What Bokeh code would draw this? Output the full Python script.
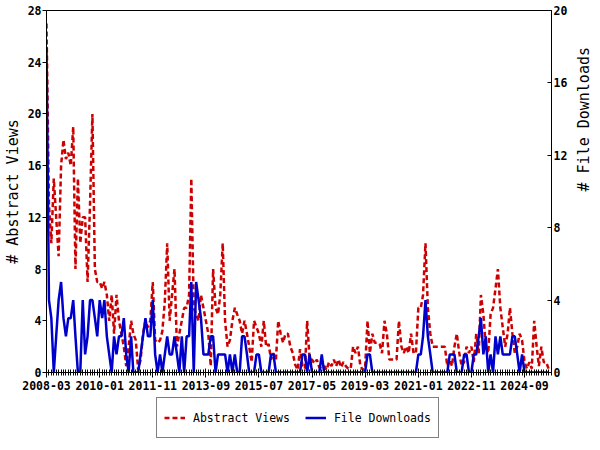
import math
import pandas as pd
from bokeh.plotting import figure
from bokeh.layouts import column
from bokeh.models import (Range1d, LinearAxis, FixedTicker, DatetimeTickFormatter,
                          Legend, LegendItem, ColumnDataSource)
from bokeh.embed import file_html
from bokeh.resources import INLINE

# ---------------- data (monthly, starting 2008-03) ----------------
start_month = "2008-03"
abstract_views = [
    27, 13, 10, 15, 12, 9, 16, 18, 16.5, 17,
    16, 19, 8, 15, 10, 12, 12, 7, 13, 20,
    8, 7, 7, 6.5, 7, 6, 4, 6, 3, 6,
    4, 3, 2, 0.5, 2, 4, 3, 2.5, 0.2, 1,
    3, 4, 3.5, 4, 7, 2.5, 2.3, 2.5, 3.2, 5.5,
    10, 4, 6, 8, 2, 3, 4, 5, 5, 6,
    15, 5, 4.5, 4, 6, 5, 4, 3, 0.5, 8,
    5, 4.5, 6, 10, 4, 2, 2.5, 4, 5, 4.5,
    4, 3, 4, 3, 2, 0.8, 4, 3.5, 3, 2,
    4, 2, 2.2, 1, 1.5, 1, 4, 3, 2.3, 3,
    3, 2, 1.5, 0.6, 0.2, 1.8, 0.5, 0.3, 4, 1,
    1, 0.7, 1, 0.4, 0.3, 0.5, 0.2, 0.8, 0.5, 1,
    0.5, 1, 0.4, 0.8, 0.5, 0.3, 0.3, 2, 1.5, 2,
    0.5, 0.2, 0.3, 4, 1.5, 3, 2.3, 2.3, 2.2, 1.5,
    4, 3, 1, 1, 1, 1, 4, 2, 1.5, 2,
    1.5, 3, 1.5, 1.5, 5, 5, 6, 10, 5, 3,
    2, 2, 2, 2, 2, 2, 0.5, 1, 0.5, 2,
    3, 1.5, 0.5, 0.8, 2, 1.5, 2, 0.8, 3, 1.5,
    6, 4.5, 2, 1.5, 4.5, 5, 6.5, 8, 5, 3.5,
    2, 3, 5, 3, 1.5, 2, 3, 2.5, 0.8, 0.3,
    0.8, 0.3, 4, 2, 0.5, 2, 0.8, 0.8, 0.3,
]
file_downloads = [
    18, 4, 3, 0, 2, 4, 5, 3, 2, 3,
    3, 4, 2, 0, 0, 4, 1, 2, 4, 4,
    3, 2, 4, 3, 4, 2, 1, 0, 2, 1,
    2, 2, 3, 1, 0, 2, 0, 0, 0, 1,
    2, 3, 2, 2, 4, 1, 0, 1, 0, 1,
    2, 1, 1, 2, 1, 0, 2, 0, 2, 2,
    5, 0, 5, 4, 3, 1, 1, 1, 2, 2,
    0, 1, 1, 1, 1, 0, 1, 0, 1, 0,
    0, 2, 2, 1, 0, 0, 0, 1, 1, 0,
    0, 0, 0, 1, 1, 0, 0, 0, 0, 0,
    0, 0, 0, 0, 0, 0, 1, 1, 0, 1,
    0, 0, 0, 0, 1, 0, 0, 0, 0, 0,
    0, 0, 0, 0, 0, 0, 0, 0, 0, 0,
    0, 0, 0, 1, 1, 0, 0, 0, 0, 0,
    0, 0, 0, 0, 0, 0, 0, 0, 0, 0,
    0, 0, 0, 0, 1, 1, 2, 4, 2, 1,
    0, 0, 0, 0, 0, 0, 0, 1, 1, 1,
    0, 0, 0, 1, 1, 0, 0, 1, 1, 2,
    3, 1, 2, 0, 1, 0, 2, 1, 2, 1,
    1, 1, 1, 2, 2, 1, 0, 1, 0, 0,
    0, 0, 0, 0, 0, 0, 0, 0, 0,
]
x_tick_labels = ["2008-03", "2010-01", "2011-11", "2013-09", "2015-07",
                 "2017-05", "2019-03", "2021-01", "2022-11", "2024-09"]
left_ticks = [0, 4, 8, 12, 16, 20, 24, 28]
right_ticks = [0, 4, 8, 12, 16, 20]
series_names = ["Abstract Views", "File Downloads"]
axis_titles = ["# Abstract Views", "# File Downloads"]

# ---------------- build ----------------
dates = pd.date_range(start_month + "-01", periods=len(abstract_views), freq="MS")
src = ColumnDataSource(dict(date=dates, views=abstract_views, downloads=file_downloads))

x_start = pd.Timestamp(start_month + "-01")
x_end = pd.Timestamp("2025-08-07")

FONT = "DejaVu Sans Mono"
RED = "#cc0000"
BLUE = "#0000cc"
RED_DASH = "5 3"

p = figure(width=584, height=396, frame_width=505, frame_height=362,
           x_axis_type="datetime",
           x_range=Range1d(x_start, x_end), y_range=Range1d(left_ticks[0], left_ticks[-1]),
           output_backend="svg", toolbar_location=None,
           min_border_left=39, min_border_right=40, min_border_top=10, min_border_bottom=24)
p.extra_y_ranges = {"dl": Range1d(right_ticks[0], right_ticks[-1])}

p.xgrid.visible = False
p.ygrid.visible = False
p.outline_line_color = "black"
p.outline_line_width = 1
p.background_fill_color = "white"
p.border_fill_color = "white"

r_views = p.line("date", "views", source=src, line_color=RED, line_width=2.5,
                 line_dash=RED_DASH)
r_dl = p.line("date", "downloads", source=src, line_color=BLUE, line_width=2.5,
              y_range_name="dl")

def ms(ts):
    return ts.value // 10**6

major = [ms(pd.Timestamp(l + "-01")) for l in x_tick_labels]
minor = [ms(t) for t in pd.date_range(x_start, x_end, freq="MS")]

xa = p.xaxis[0]
xa.ticker = FixedTicker(ticks=major, minor_ticks=minor)
fmt = "%Y-%m"
xa.formatter = DatetimeTickFormatter(milliseconds=fmt, seconds=fmt, minsec=fmt, minutes=fmt,
                                     hourmin=fmt, hours=fmt, days=fmt, months=fmt, years=fmt)
xa.major_tick_in = 4
xa.major_tick_out = 5
xa.minor_tick_in = 3
xa.minor_tick_out = 3
xa.major_label_standoff = 3

ya = p.yaxis[0]
ya.ticker = FixedTicker(ticks=left_ticks)
ya.major_tick_in = 0
ya.major_tick_out = 4
ya.minor_tick_in = 0
ya.minor_tick_out = 0
ya.major_label_standoff = 1
ya.axis_label = axis_titles[0]
ya.axis_label_standoff = 3

yr = LinearAxis(y_range_name="dl", ticker=FixedTicker(ticks=right_ticks))
yr.major_tick_in = 4
yr.major_tick_out = 0
yr.minor_tick_in = 0
yr.minor_tick_out = 0
yr.major_label_standoff = 2
yr.axis_label = axis_titles[1]
yr.axis_label_standoff = 14
yr.axis_label_orientation = math.pi / 2
p.add_layout(yr, "right")

for ax in (xa, ya, yr):
    ax.axis_line_color = "black"
    ax.major_tick_line_color = "black"
    ax.minor_tick_line_color = "black"
    ax.major_label_text_font = FONT
    ax.major_label_text_font_style = "bold"
    ax.major_label_text_font_size = "11.5px"
    ax.major_label_text_color = "black"
    ax.axis_label_text_font = FONT
    ax.axis_label_text_font_style = "normal"
    ax.axis_label_text_font_size = "15px"
    ax.axis_label_text_color = "black"

# ---------------- legend strip under the chart ----------------
# The strip's ranges keep its copies of the series out of view; only the legend shows.
q = figure(width=584, height=44, x_range=Range1d(0, 1), y_range=Range1d(0, 1),
           output_backend="svg", toolbar_location=None, min_border=0)
q.axis.visible = False
q.xgrid.visible = False
q.ygrid.visible = False
q.outline_line_color = None
lg_views = q.line("date", "views", source=src, line_color=RED, line_width=2.5,
                  line_dash=RED_DASH)
lg_dl = q.line("date", "downloads", source=src, line_color=BLUE, line_width=2.5)

legend = Legend(items=[LegendItem(label=series_names[0], renderers=[lg_views]),
                       LegendItem(label=series_names[1], renderers=[lg_dl])],
                orientation="horizontal", location=(110, 2))
legend.border_line_color = "black"
legend.border_line_width = 1
legend.padding = 7
legend.spacing = 15
legend.label_standoff = 8
legend.glyph_width = 21
legend.glyph_height = 25
legend.margin = 0
legend.label_text_font = FONT
legend.label_text_font_size = "11.5px"
legend.label_text_color = "black"
q.add_layout(legend, "center")

open("out.html", "w").write(file_html(column(p, q), INLINE))
